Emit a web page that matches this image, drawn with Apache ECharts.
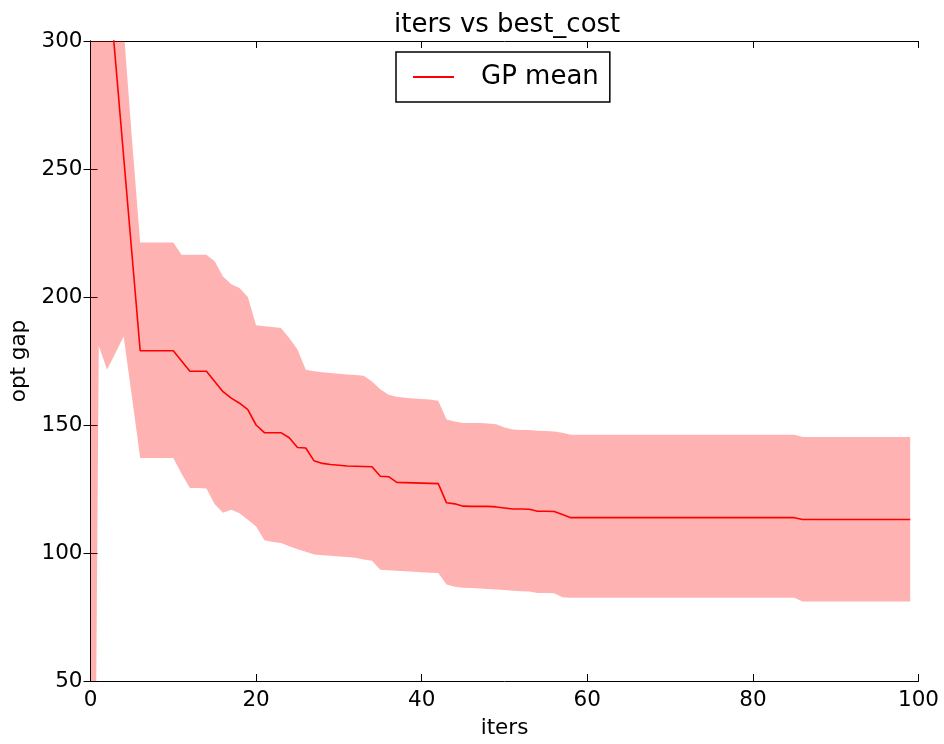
<!DOCTYPE html>
<html>
<head>
<meta charset="utf-8">
<script src="https://cdn.jsdelivr.net/npm/echarts@6/dist/echarts.min.js"></script>
<style>html,body{margin:0;padding:0;background:#fff}#c{width:944px;height:744px}</style>
</head>
<body>
<div id="c"></div>
<script>
var iters = [0,1,2,3,4,5,6,7,8,9,10,11,12,13,14,15,16,17,18,19,20,21,22,23,24,25,26,27,28,29,30,31,32,33,34,35,36,37,38,39,40,41,42,43,44,45,46,47,48,49,50,51,52,53,54,55,56,57,58,59,60,61,62,63,64,65,66,67,68,69,70,71,72,73,74,75,76,77,78,79,80,81,82,83,84,85,86,87,88,89,90,91,92,93,94,95,96,97,98,99];

var gpMean = [450,390,331,293,255,217,179,179,179,179,
  179,175,171,171,171,167,163,160.5,158.5,156,
  150,147,147,147,145,141.2,141,136,135,134.6,
  134.3,134,133.9,133.8,133.7,130,129.8,127.6,127.5,127.4,
  127.3,127.2,127.1,119.6,119.2,118.3,118.2,118.2,118.2,118,
  117.6,117.2,117.2,117.1,116.3,116.3,116.2,115,113.8,113.8,
  113.8,113.8,113.8,113.8,113.8,113.8,113.8,113.8,113.8,113.8,
  113.8,113.8,113.8,113.8,113.8,113.8,113.8,113.8,113.8,113.8,
  113.8,113.8,113.8,113.8,113.8,113.8,113.1,113.1,113.1,113.1,
  113.1,113.1,113.1,113.1,113.1,113.1,113.1,113.1,113.1,113.1];

var upperBound = [700,650,560,430,305,262,221.3,221.3,221.3,221.3,
  221.3,216.5,216.5,216.5,216.5,214,208,205,203.5,200,
  189,188.6,188.3,187.9,184,179.5,171.6,171,170.6,170.3,
  170,169.7,169.5,169.2,167,164,161.8,161,160.6,160.4,
  160.2,160,159.5,152.1,151.4,150.8,150.8,150.8,150.6,150.3,
  149,148.2,148,148,147.8,147.7,147.5,147,146.2,146.2,
  146.2,146.2,146.2,146.2,146.2,146.2,146.2,146.2,146.2,146.2,
  146.2,146.2,146.2,146.2,146.2,146.2,146.2,146.2,146.2,146.2,
  146.2,146.2,146.2,146.2,146.2,146.2,145.3,145.3,145.3,145.3,
  145.3,145.3,145.3,145.3,145.3,145.3,145.3,145.3,145.3,145.3];

var lowerBound = [-250,181,171.6,178,184.6,161,137.1,137.1,137.1,137.1,
  137.1,131,125.4,125.4,125.2,119,115.7,116.9,115.5,113,
  110.4,105,104.3,103.9,102.6,101.5,100.5,99.4,99.1,98.9,
  98.6,98.4,98.1,97.5,97,93.5,93.3,93.1,92.9,92.7,
  92.5,92.3,92.2,87.7,86.8,86.4,86.3,86.1,85.9,85.7,
  85.5,85.3,85.1,85,84.4,84.4,84.3,82.7,82.5,82.5,
  82.5,82.5,82.5,82.5,82.5,82.5,82.5,82.5,82.5,82.5,
  82.5,82.5,82.5,82.5,82.5,82.5,82.5,82.5,82.5,82.5,
  82.5,82.5,82.5,82.5,82.5,82.5,81.1,81.1,81.1,81.1,
  81.1,81.1,81.1,81.1,81.1,81.1,81.1,81.1,81.1,81.1];

var xTicks = {min: 0, max: 100, interval: 20};
var yTicks = {min: 50, max: 300, interval: 50};

var FONT = 'DejaVu Sans';
var meanData = iters.map(function (x, i) { return [x, gpMean[i]]; });
var bandData = iters.map(function (x, i) { return [x, lowerBound[i], upperBound[i]]; });

var chart = echarts.init(document.getElementById('c'), null, {renderer: 'canvas'});
var axisLine = {show: true, lineStyle: {color: '#000', width: 1}};
var tick = {show: true, inside: true, length: 7, lineStyle: {color: '#000', width: 1}};

function renderBand(params, api) {
  if (params.dataIndex !== 0) return null;
  var pts = [];
  var i;
  for (i = 0; i < iters.length; i++) pts.push(api.coord([iters[i], upperBound[i]]));
  for (i = iters.length - 1; i >= 0; i--) pts.push(api.coord([iters[i], lowerBound[i]]));
  var cs = params.coordSys;
  return {
    type: 'group',
    children: [{
      type: 'polygon',
      shape: {points: pts},
      style: {fill: 'rgba(255,0,0,0.3)', stroke: null}
    }],
    clipPath: {type: 'rect', shape: {x: cs.x, y: cs.y, width: cs.width, height: cs.height}}
  };
}

chart.setOption({
  backgroundColor: '#fff',
  animation: false,
  textStyle: {fontFamily: FONT},
  title: {
    text: 'iters vs best_cost',
    left: 389, top: 7,
    textStyle: {fontFamily: FONT, fontSize: 26, fontWeight: 'normal', color: '#000'}
  },
  legend: {
    data: [{name: 'GP mean', icon: 'rect'}],
    left: 396, top: 52,
    padding: [12, 11, 12, 17],
    itemWidth: 41, itemHeight: 2,
    borderColor: '#000', borderWidth: 1.5, borderRadius: 0,
    backgroundColor: '#fff',
    textStyle: {fontFamily: FONT, fontSize: 26, color: '#000', padding: [0, 0, 0, 22]}
  },
  grid: {left: 90.5, right: 25.5, top: 41, bottom: 62.5, containLabel: false},
  xAxis: [{
    type: 'value', position: 'bottom', min: xTicks.min, max: xTicks.max, interval: xTicks.interval,
    axisLine: axisLine, axisTick: tick, splitLine: {show: false},
    axisLabel: {color: '#000', fontFamily: FONT, fontSize: 21.5, margin: 8},
    name: 'iters', nameLocation: 'middle', nameGap: 36,
    nameTextStyle: {color: '#000', fontFamily: FONT, fontSize: 21.5}
  }, {
    type: 'value', position: 'top', min: xTicks.min, max: xTicks.max, interval: xTicks.interval,
    axisLine: axisLine, axisTick: tick, splitLine: {show: false}, axisLabel: {show: false}
  }],
  yAxis: [{
    type: 'value', position: 'left', min: yTicks.min, max: yTicks.max, interval: yTicks.interval,
    axisLine: axisLine, axisTick: tick, splitLine: {show: false},
    axisLabel: {color: '#000', fontFamily: FONT, fontSize: 21.5, margin: 8},
    name: 'opt gap', nameLocation: 'middle', nameGap: 56,
    nameTextStyle: {color: '#000', fontFamily: FONT, fontSize: 21.5}
  }, {
    type: 'value', position: 'right', min: yTicks.min, max: yTicks.max, interval: yTicks.interval,
    axisLine: axisLine, axisTick: tick, splitLine: {show: false}, axisLabel: {show: false}
  }],
  series: [{
    name: 'band', type: 'custom', data: bandData, renderItem: renderBand,
    encode: {x: 0, y: [1, 2]}, silent: true, z: 1
  }, {
    name: 'GP mean', type: 'line', data: meanData, symbol: 'none', showSymbol: false, clip: true, z: 3,
    lineStyle: {color: '#ff0000', width: 1.6}, itemStyle: {color: '#ff0000'}
  }]
});
</script>
</body>
</html>
